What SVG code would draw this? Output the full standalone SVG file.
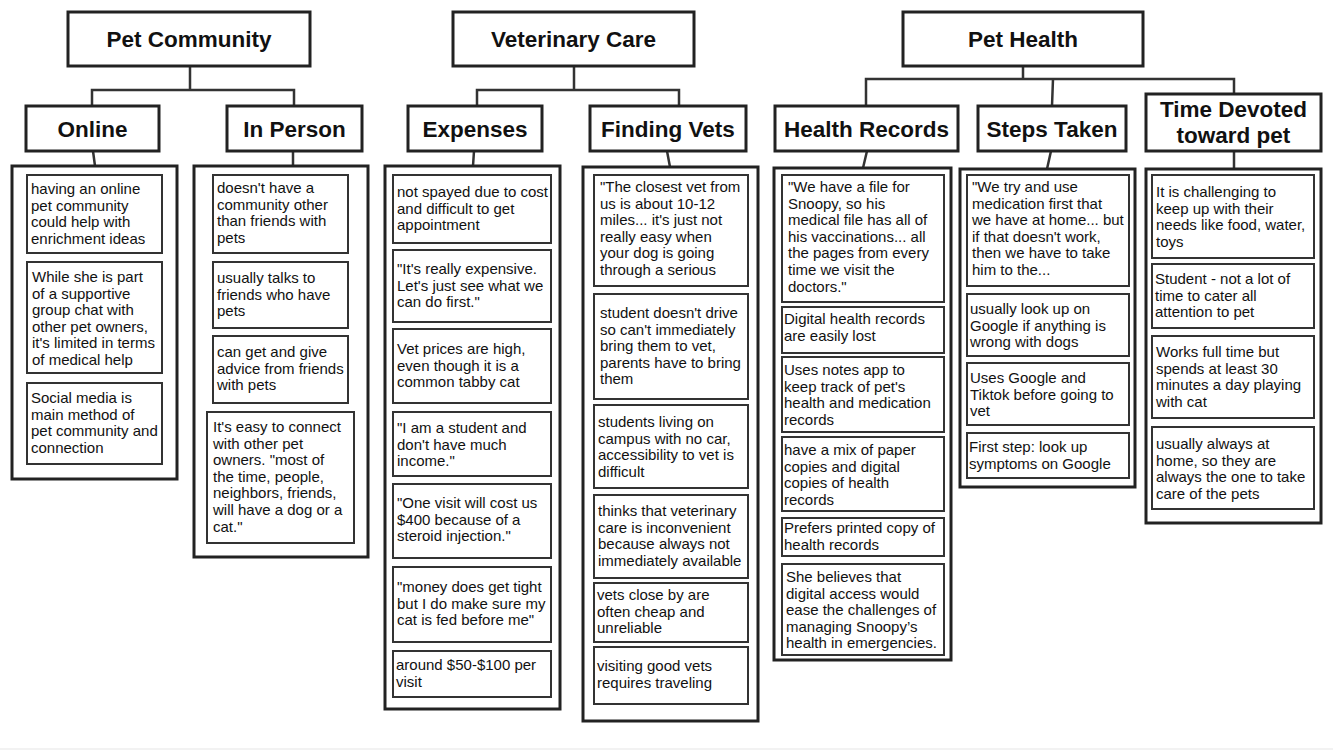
<svg xmlns="http://www.w3.org/2000/svg" width="1333" height="750" viewBox="0 0 1333 750">
<style>
.hdr{fill:#fff;stroke:#222;stroke-width:3}
.col{fill:#fff;stroke:#222;stroke-width:3}
.item{fill:#fff;stroke:#333;stroke-width:2}
.ht{font-family:"Liberation Sans",Arial,sans-serif;font-weight:bold;font-size:22.5px;fill:#111;text-anchor:middle}
.t{font-family:"Liberation Sans",Arial,sans-serif;font-size:15px;fill:#111}
.cn{fill:none;stroke:#333;stroke-width:2.5}
</style>
<rect x="0" y="0" width="1333" height="750" fill="#fff"/>
<rect x="0" y="748" width="1333" height="2" fill="#f2f2f2"/>

<g id="connectors">
<path class="cn" d="M190,66 V90 M92,106 V90 H294 V106 M93,151 L95,166 M293,151 L293,166"/>
<path class="cn" d="M574,66 V90 M477,106 V90 H679 V106 M474,151 L473,166 M667,151 L670,167"/>
<path class="cn" d="M1023,66 V79 M866,106 V79 H1234 V94 M1053,79 L1052,106 M867,151 L863,168 M1051,151 L1047,169 M1234,151 V169"/>
</g>

<g id="pet-community"><rect class="hdr" x="68" y="12" width="242" height="54"/><text class="ht" x="189" y="47">Pet Community</text></g>
<g id="veterinary-care"><rect class="hdr" x="453" y="12" width="241" height="54"/><text class="ht" x="573.5" y="47">Veterinary Care</text></g>
<g id="pet-health"><rect class="hdr" x="903" y="12" width="240" height="54"/><text class="ht" x="1023" y="47">Pet Health</text></g>

<g id="online"><rect class="hdr" x="26" y="106" width="133" height="45"/><text class="ht" x="92.5" y="137">Online</text></g>
<g id="in-person"><rect class="hdr" x="227" y="106" width="135" height="45"/><text class="ht" x="294.5" y="137">In Person</text></g>
<g id="expenses"><rect class="hdr" x="408" y="106" width="134" height="45"/><text class="ht" x="475" y="137">Expenses</text></g>
<g id="finding-vets"><rect class="hdr" x="590" y="106" width="156" height="45"/><text class="ht" x="668" y="137">Finding Vets</text></g>
<g id="health-records"><rect class="hdr" x="775" y="106" width="183" height="45"/><text class="ht" x="866.5" y="137">Health Records</text></g>
<g id="steps-taken"><rect class="hdr" x="978" y="106" width="148" height="45"/><text class="ht" x="1052" y="137">Steps Taken</text></g>
<g id="time-devoted"><rect class="hdr" x="1146" y="94" width="175" height="57"/><text class="ht" x="1233.5" y="117">Time Devoted</text><text class="ht" x="1233.5" y="143">toward pet</text></g>

<g id="online-list">
<rect class="col" x="12" y="166" width="165" height="313"/>
<rect class="item" x="27" y="175" width="135" height="78"/>
<text class="t" x="31" y="194"><tspan x="31">having an online</tspan><tspan x="31" dy="16.6">pet community</tspan><tspan x="31" dy="16.6">could help with</tspan><tspan x="31" dy="16.6">enrichment ideas</tspan></text>
<rect class="item" x="27" y="262" width="135" height="111"/>
<text class="t" x="32" y="282"><tspan x="32">While she is part</tspan><tspan x="32" dy="16.6">of a supportive</tspan><tspan x="32" dy="16.6">group chat with</tspan><tspan x="32" dy="16.6">other pet owners,</tspan><tspan x="32" dy="16.6">it's limited in terms</tspan><tspan x="32" dy="16.6">of medical help</tspan></text>
<rect class="item" x="27" y="383" width="135" height="81"/>
<text class="t" x="31" y="403"><tspan x="31">Social media is</tspan><tspan x="31" dy="16.6">main method of</tspan><tspan x="31" dy="16.6">pet community and</tspan><tspan x="31" dy="16.6">connection</tspan></text>
</g>

<g id="in-person-list">
<rect class="col" x="194" y="166" width="174" height="391"/>
<rect class="item" x="213" y="175" width="135" height="78"/>
<text class="t" x="217" y="193"><tspan x="217">doesn't have a</tspan><tspan x="217" dy="16.6">community other</tspan><tspan x="217" dy="16.6">than friends with</tspan><tspan x="217" dy="16.6">pets</tspan></text>
<rect class="item" x="213" y="262" width="135" height="66"/>
<text class="t" x="217" y="283"><tspan x="217">usually talks to</tspan><tspan x="217" dy="16.6">friends who have</tspan><tspan x="217" dy="16.6">pets</tspan></text>
<rect class="item" x="213" y="336" width="135" height="67"/>
<text class="t" x="217" y="357"><tspan x="217">can get and give</tspan><tspan x="217" dy="16.6">advice from friends</tspan><tspan x="217" dy="16.6">with pets</tspan></text>
<rect class="item" x="207" y="412" width="147" height="131"/>
<text class="t" x="213" y="432"><tspan x="213">It's easy to connect</tspan><tspan x="213" dy="16.6">with other pet</tspan><tspan x="213" dy="16.6">owners. "most of</tspan><tspan x="213" dy="16.6">the time, people,</tspan><tspan x="213" dy="16.6">neighbors, friends,</tspan><tspan x="213" dy="16.6">will have a dog or a</tspan><tspan x="213" dy="16.6">cat."</tspan></text>
</g>

<g id="expenses-list">
<rect class="col" x="385" y="166" width="175" height="543"/>
<rect class="item" x="393" y="175" width="158" height="68"/>
<text class="t" x="397" y="197"><tspan x="397">not spayed due to cost</tspan><tspan x="397" dy="16.6">and difficult to get</tspan><tspan x="397" dy="16.6">appointment</tspan></text>
<rect class="item" x="393" y="250" width="158" height="72"/>
<text class="t" x="397" y="274"><tspan x="397">"It's really expensive.</tspan><tspan x="397" dy="16.6">Let's just see what we</tspan><tspan x="397" dy="16.6">can do first."</tspan></text>
<rect class="item" x="393" y="329" width="158" height="74"/>
<text class="t" x="397" y="354"><tspan x="397">Vet prices are high,</tspan><tspan x="397" dy="16.6">even though it is a</tspan><tspan x="397" dy="16.6">common tabby cat</tspan></text>
<rect class="item" x="393" y="412" width="158" height="64"/>
<text class="t" x="397" y="433"><tspan x="397">"I am a student and</tspan><tspan x="397" dy="16.6">don't have much</tspan><tspan x="397" dy="16.6">income."</tspan></text>
<rect class="item" x="393" y="484" width="158" height="74"/>
<text class="t" x="397" y="508"><tspan x="397">"One visit will cost us</tspan><tspan x="397" dy="16.6">$400 because of a</tspan><tspan x="397" dy="16.6">steroid injection."</tspan></text>
<rect class="item" x="393" y="567" width="158" height="75"/>
<text class="t" x="397" y="592"><tspan x="397">"money does get tight</tspan><tspan x="397" dy="16.6">but I do make sure my</tspan><tspan x="397" dy="16.6">cat is fed before me"</tspan></text>
<rect class="item" x="393" y="651" width="158" height="46"/>
<text class="t" x="396" y="670"><tspan x="396">around $50-$100 per</tspan><tspan x="396" dy="16.6">visit</tspan></text>
</g>

<g id="finding-vets-list">
<rect class="col" x="583" y="167" width="175" height="554"/>
<rect class="item" x="594" y="175" width="154" height="111"/>
<text class="t" x="600" y="192"><tspan x="600">"The closest vet from</tspan><tspan x="600" dy="16.6">us is about 10-12</tspan><tspan x="600" dy="16.6">miles... it's just not</tspan><tspan x="600" dy="16.6">really easy when</tspan><tspan x="600" dy="16.6">your dog is going</tspan><tspan x="600" dy="16.6">through a serious</tspan></text>
<rect class="item" x="594" y="294" width="154" height="105"/>
<text class="t" x="600" y="318"><tspan x="600">student doesn't drive</tspan><tspan x="600" dy="16.6">so can't immediately</tspan><tspan x="600" dy="16.6">bring them to vet,</tspan><tspan x="600" dy="16.6">parents have to bring</tspan><tspan x="600" dy="16.6">them</tspan></text>
<rect class="item" x="594" y="405" width="154" height="83"/>
<text class="t" x="598" y="427"><tspan x="598">students living on</tspan><tspan x="598" dy="16.6">campus with no car,</tspan><tspan x="598" dy="16.6">accessibility to vet is</tspan><tspan x="598" dy="16.6">difficult</tspan></text>
<rect class="item" x="594" y="495" width="154" height="83"/>
<text class="t" x="598" y="516"><tspan x="598">thinks that veterinary</tspan><tspan x="598" dy="16.6">care is inconvenient</tspan><tspan x="598" dy="16.6">because always not</tspan><tspan x="598" dy="16.6">immediately available</tspan></text>
<rect class="item" x="594" y="583" width="154" height="59"/>
<text class="t" x="597" y="600"><tspan x="597">vets close by are</tspan><tspan x="597" dy="16.6">often cheap and</tspan><tspan x="597" dy="16.6">unreliable</tspan></text>
<rect class="item" x="594" y="647" width="154" height="57"/>
<text class="t" x="597" y="671"><tspan x="597">visiting good vets</tspan><tspan x="597" dy="16.6">requires traveling</tspan></text>
</g>

<g id="health-records-list">
<rect class="col" x="774" y="168" width="177" height="492"/>
<rect class="item" x="782" y="175" width="162" height="127"/>
<text class="t" x="788" y="192"><tspan x="788">"We have a file for</tspan><tspan x="788" dy="16.6">Snoopy, so his</tspan><tspan x="788" dy="16.6">medical file has all of</tspan><tspan x="788" dy="16.6">his vaccinations... all</tspan><tspan x="788" dy="16.6">the pages from every</tspan><tspan x="788" dy="16.6">time we visit the</tspan><tspan x="788" dy="16.6">doctors."</tspan></text>
<rect class="item" x="782" y="307" width="162" height="46"/>
<text class="t" x="784" y="324"><tspan x="784">Digital health records</tspan><tspan x="784" dy="16.6">are easily lost</tspan></text>
<rect class="item" x="782" y="357" width="162" height="75"/>
<text class="t" x="784" y="375"><tspan x="784">Uses notes app to</tspan><tspan x="784" dy="16.6">keep track of pet's</tspan><tspan x="784" dy="16.6">health and medication</tspan><tspan x="784" dy="16.6">records</tspan></text>
<rect class="item" x="782" y="437" width="162" height="74"/>
<text class="t" x="784" y="455"><tspan x="784">have a mix of paper</tspan><tspan x="784" dy="16.6">copies and digital</tspan><tspan x="784" dy="16.6">copies of health</tspan><tspan x="784" dy="16.6">records</tspan></text>
<rect class="item" x="782" y="518" width="162" height="38"/>
<text class="t" x="784" y="533"><tspan x="784">Prefers printed copy of</tspan><tspan x="784" dy="16.6">health records</tspan></text>
<rect class="item" x="782" y="564" width="162" height="91"/>
<text class="t" x="786" y="582"><tspan x="786">She believes that</tspan><tspan x="786" dy="16.6">digital access would</tspan><tspan x="786" dy="16.6">ease the challenges of</tspan><tspan x="786" dy="16.6">managing Snoopy’s</tspan><tspan x="786" dy="16.6">health in emergencies.</tspan></text>
</g>

<g id="steps-taken-list">
<rect class="col" x="960" y="169" width="175" height="318"/>
<rect class="item" x="967" y="175" width="162" height="111"/>
<text class="t" x="972" y="192"><tspan x="972">"We try and use</tspan><tspan x="972" dy="16.6">medication first that</tspan><tspan x="972" dy="16.6">we have at home... but</tspan><tspan x="972" dy="16.6">if that doesn't work,</tspan><tspan x="972" dy="16.6">then we have to take</tspan><tspan x="972" dy="16.6">him to the...</tspan></text>
<rect class="item" x="967" y="294" width="162" height="62"/>
<text class="t" x="970" y="314"><tspan x="970">usually look up on</tspan><tspan x="970" dy="16.6">Google if anything is</tspan><tspan x="970" dy="16.6">wrong with dogs</tspan></text>
<rect class="item" x="967" y="363" width="162" height="62"/>
<text class="t" x="970" y="383"><tspan x="970">Uses Google and</tspan><tspan x="970" dy="16.6">Tiktok before going to</tspan><tspan x="970" dy="16.6">vet</tspan></text>
<rect class="item" x="967" y="433" width="162" height="45"/>
<text class="t" x="969" y="452"><tspan x="969">First step: look up</tspan><tspan x="969" dy="16.6">symptoms on Google</tspan></text>
</g>

<g id="time-devoted-list">
<rect class="col" x="1146" y="169" width="175" height="354"/>
<rect class="item" x="1152" y="175" width="162" height="83"/>
<text class="t" x="1156" y="197"><tspan x="1156">It is challenging to</tspan><tspan x="1156" dy="16.6">keep up with their</tspan><tspan x="1156" dy="16.6">needs like food, water,</tspan><tspan x="1156" dy="16.6">toys</tspan></text>
<rect class="item" x="1152" y="264" width="162" height="64"/>
<text class="t" x="1155" y="284"><tspan x="1155">Student - not a lot of</tspan><tspan x="1155" dy="16.6">time to cater all</tspan><tspan x="1155" dy="16.6">attention to pet</tspan></text>
<rect class="item" x="1152" y="336" width="162" height="82"/>
<text class="t" x="1156" y="357"><tspan x="1156">Works full time but</tspan><tspan x="1156" dy="16.6">spends at least 30</tspan><tspan x="1156" dy="16.6">minutes a day playing</tspan><tspan x="1156" dy="16.6">with cat</tspan></text>
<rect class="item" x="1152" y="427" width="162" height="82"/>
<text class="t" x="1156" y="449"><tspan x="1156">usually always at</tspan><tspan x="1156" dy="16.6">home, so they are</tspan><tspan x="1156" dy="16.6">always the one to take</tspan><tspan x="1156" dy="16.6">care of the pets</tspan></text>
</g>
</svg>
